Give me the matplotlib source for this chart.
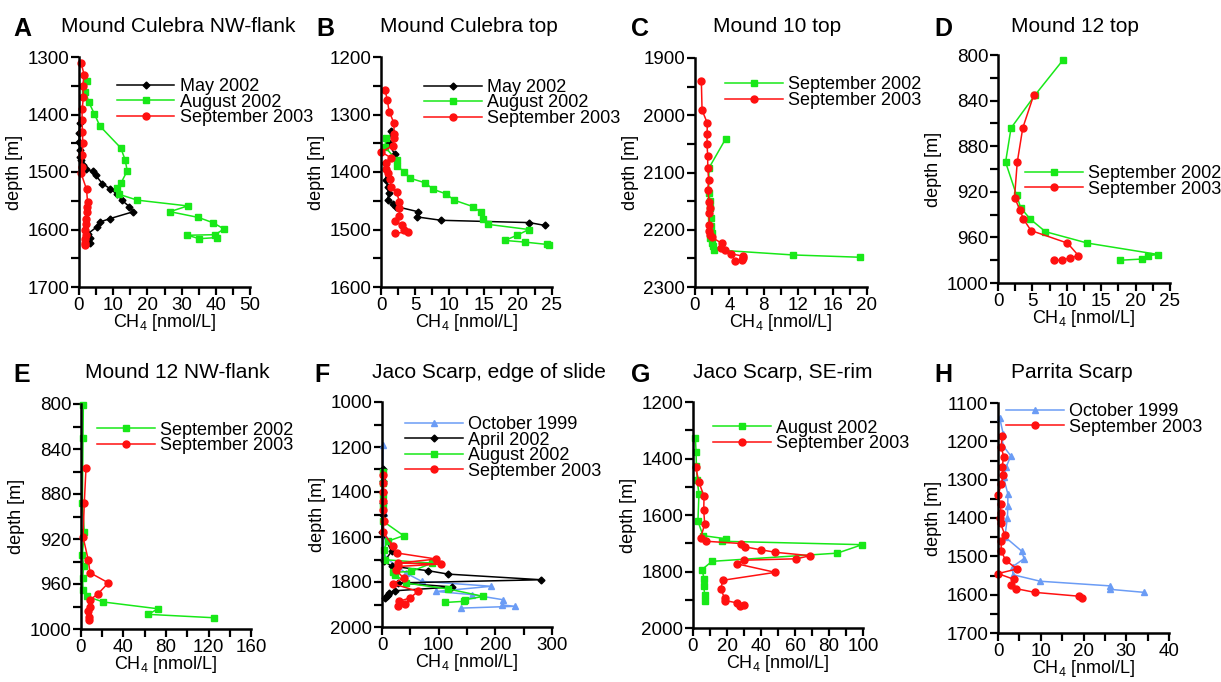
import numpy as np
import matplotlib
matplotlib.use('Agg')
import matplotlib.pyplot as plt
from matplotlib.ticker import MultipleLocator

plt.rcParams['font.family'] = ['Liberation Sans', 'DejaVu Sans']
plt.rcParams['mathtext.fontset'] = 'custom'
plt.rcParams['mathtext.rm'] = 'Liberation Sans'

# ---- data (CH4 nmol/L, depth m) ----
# A  Mound Culebra NW-flank
a_may02_ch4 = [0.2, 0.1, 0.1, 0.3, 0.2, 0.6, 1.3, 2.0, 4.2, 4.9, 6.8, 9.1, 11.2, 12.5, 14.7, 15.9, 9.1, 6.1, 5.3, 2.7, 3.2, 3.2]
a_may02_dep = [1415, 1432, 1448, 1462, 1474, 1479, 1488, 1495, 1499, 1506, 1520, 1529, 1539, 1549, 1560, 1569, 1581, 1587, 1595, 1607, 1614, 1624]
a_aug02_ch4 = [2.4, 1.9, 2.9, 4.5, 6.1, 12.2, 13.5, 14.1, 12.3, 11.0, 11.8, 17.1, 31.8, 26.6, 34.9, 39.1, 42.4, 39.8, 31.7, 35.2, 40.3]
a_aug02_dep = [1341, 1360, 1379, 1399, 1420, 1458, 1479, 1498, 1519, 1528, 1539, 1549, 1559, 1569, 1579, 1588, 1599, 1609, 1610, 1616, 1614]
a_sep03_ch4 = [0.6, 1.5, 1.1, 1.3, 0.9, 0.9, 1.0, 1.1, 1.0, 0.8, 0.6, 2.2, 2.5, 2.4, 2.3, 2.1, 2.1, 1.9, 2.0, 1.8, 1.7, 1.9]
a_sep03_dep = [1310, 1331, 1350, 1370, 1391, 1410, 1430, 1450, 1470, 1491, 1502, 1530, 1552, 1560, 1569, 1581, 1590, 1601, 1610, 1617, 1624, 1627]

# B  Mound Culebra top
b_may02_ch4 = [1.5, 1.1, 2.0, 0.6, 0.8, 0.7, 1.0, 1.1, 1.0, 1.8, 2.2, 5.4, 5.2, 8.8, 21.7, 24.0]
b_may02_dep = [1328, 1350, 1369, 1385, 1397, 1414, 1426, 1437, 1448, 1456, 1460, 1469, 1478, 1484, 1488, 1493]
b_aug02_ch4 = [0.7, 0.6, 2.3, 2.4, 3.4, 4.3, 6.5, 7.6, 9.5, 10.7, 13.4, 14.6, 14.9, 15.6, 21.6, 19.9, 18.1, 21.1, 24.3, 24.5]
b_aug02_dep = [1340, 1357, 1379, 1390, 1400, 1411, 1419, 1430, 1438, 1449, 1460, 1470, 1481, 1491, 1500, 1510, 1519, 1522, 1526, 1527]
b_sep03_ch4 = [0.6, 0.9, 1.2, 1.9, 1.9, 1.9, 1.8, 0.05, 1.4, 0.7, 0.8, 1.0, 1.3, 1.5, 2.3, 2.7, 2.7, 2.7, 2.0, 3.1, 3.3, 4.0, 2.1]
b_sep03_dep = [1257, 1274, 1295, 1315, 1334, 1340, 1354, 1365, 1375, 1385, 1394, 1402, 1413, 1426, 1435, 1453, 1463, 1477, 1485, 1493, 1500, 1505, 1506]

# C  Mound 10 top
c_sep02_ch4 = [3.57, 1.63, 1.59, 1.75, 1.75, 1.83, 1.83, 1.94, 1.75, 1.98, 2.14, 2.21, 11.38, 19.15]
c_sep02_dep = [2041, 2092, 2135, 2150, 2162, 2179, 2194, 2206, 2214, 2223, 2229, 2235, 2244, 2248]
c_sep03_ch4 = [0.74, 0.82, 1.44, 1.40, 1.40, 1.48, 1.48, 1.59, 1.48, 1.63, 1.71, 1.63, 1.67, 1.67, 1.75, 1.94, 3.15, 2.99, 3.50, 4.19, 5.55, 5.63, 5.48, 4.70]
c_sep03_dep = [1941, 1991, 2014, 2032, 2051, 2072, 2092, 2113, 2131, 2151, 2162, 2171, 2191, 2202, 2209, 2213, 2224, 2232, 2236, 2242, 2246, 2249, 2252, 2255]

# D  Mound 12 top
d_sep02_ch4 = [9.5, 5.4, 1.9, 1.1, 2.7, 3.3, 4.7, 6.9, 13.0, 23.3, 21.8, 20.9, 17.8]
d_sep02_dep = [804, 835, 864, 894, 923, 934, 944, 955, 965, 975, 976, 979, 980]
d_sep03_ch4 = [5.2, 3.6, 2.8, 2.4, 3.2, 3.7, 4.8, 10.1, 11.7, 10.4, 9.3, 8.1]
d_sep03_dep = [835, 864, 894, 925, 936, 944, 954, 965, 976, 978, 980, 980]

# E  Mound 12 NW-flank
e_sep02_ch4 = [2.2, 1.9, 1.3, 3.1, 1.3, 2.5, 1.6, 1.9, 5.3, 21.1, 72.3, 63.5, 125.1]
e_sep02_dep = [801, 830, 888, 914, 934, 944, 955, 965, 971, 976, 982, 987, 990]
e_sep03_ch4 = [4.7, 3.1, 1.9, 6.9, 8.5, 25.8, 15.7, 8.5, 8.5, 6.9, 7.2, 7.5]
e_sep03_dep = [857, 888, 918, 939, 950, 959, 969, 974, 980, 984, 989, 992]

# F  Jaco Scarp, edge of slide
f_oct99_ch4 = [1.8, 1.5, 1.8, 2.0, 2.9, 3.0, 3.5, 42, 70, 193, 96, 158, 214, 212, 235, 140]
f_oct99_dep = [1191, 1300, 1397, 1445, 1493, 1590, 1686, 1760, 1797, 1819, 1842, 1856, 1879, 1902, 1908, 1916]
f_apr02_ch4 = [1, 1, 1, 1, 1, 0, 17, 4, 17, 82, 117, 281, 29, 124, 23, 12, 10, 8, 6]
f_apr02_dep = [1300, 1350, 1400, 1450, 1500, 1578, 1664, 1708, 1730, 1750, 1765, 1790, 1804, 1822, 1839, 1849, 1856, 1863, 1871]
f_aug02_ch4 = [2, 2, 2, 2, 2, 38, 10, 3, 6, 88, 52, 20, 23, 43, 117, 179, 146, 144, 111]
f_aug02_dep = [1313, 1360, 1412, 1461, 1530, 1594, 1619, 1656, 1701, 1716, 1753, 1757, 1767, 1805, 1831, 1864, 1879, 1886, 1891]
f_sep03_ch4 = [2, 2, 2, 2, 2, 3, 2, 20, 26, 96, 28, 104, 29, 24, 38, 20, 64, 49, 30, 41, 28]
f_sep03_dep = [1323, 1360, 1400, 1440, 1480, 1530, 1579, 1642, 1671, 1698, 1716, 1720, 1731, 1745, 1782, 1808, 1842, 1871, 1886, 1898, 1908]

# G  Jaco Scarp, SE-rim
g_aug02_ch4 = [1.4, 1.8, 2.0, 2.4, 3.5, 2.9, 5.9, 19.2, 17.3, 99.5, 84.9, 11.2, 5.3, 6.5, 6.3, 6.9, 7.3]
g_aug02_dep = [1327, 1377, 1425, 1475, 1524, 1622, 1673, 1684, 1693, 1705, 1735, 1764, 1793, 1825, 1853, 1882, 1906]
g_sep03_ch4 = [1.6, 3.5, 6.5, 6.3, 6.9, 4.5, 7.8, 28.4, 30.8, 39.8, 48.4, 69.0, 60.8, 29.8, 25.9, 48.4, 17.6, 16.3, 18.6, 19.0, 25.9, 27.5, 30.0]
g_sep03_dep = [1431, 1484, 1534, 1584, 1632, 1681, 1693, 1701, 1713, 1723, 1732, 1744, 1755, 1760, 1773, 1803, 1831, 1862, 1894, 1903, 1911, 1923, 1920]

# H  Parrita Scarp
h_oct99_ch4 = [0.4, 1.2, 1.0, 3.0, 1.9, 1.3, 2.3, 2.3, 2.2, 1.6, 5.5, 6.1, 3.4, 3.5, 9.9, 26.1, 26.1, 34.2]
h_oct99_dep = [1139, 1180, 1209, 1238, 1267, 1294, 1337, 1368, 1399, 1449, 1486, 1506, 1527, 1548, 1565, 1577, 1586, 1594]
h_sep03_ch4 = [0.9, 0.8, 1.3, 1.0, 1.2, 0.8, 0.0, 0.6, 0.6, 0.5, 0.6, 1.6, 0.8, 0.7, 1.8, 4.4, 0.0, 3.7, 3.1, 4.1, 8.6, 18.9, 19.7]
h_sep03_dep = [1187, 1215, 1240, 1266, 1289, 1312, 1340, 1364, 1388, 1401, 1414, 1444, 1460, 1486, 1510, 1533, 1545, 1560, 1574, 1584, 1594, 1604, 1608]

# ---- styles ----
styles = {
    'October 1999': dict(color='#6b9cf5', marker='^', ms=5),
    'May 2002': dict(color='black', marker='D', ms=3.5),
    'April 2002': dict(color='black', marker='D', ms=3.5),
    'August 2002': dict(color='#18e818', marker='s', ms=4.5),
    'September 2002': dict(color='#18e818', marker='s', ms=4.5),
    'September 2003': dict(color='#ff1010', marker='o', ms=5),
}

W, H = 1221, 682
fig = plt.figure(figsize=(W / 100, H / 100), dpi=100)


def px_axes(l, t, r, b):
    return fig.add_axes([l / W, 1 - b / H, (r - l) / W, (b - t) / H])


def draw_panel(box, letter, title, title_xy, letter_xy, series, xlim, xmaj, xmin,
               ylim, ymaj, ymin, leg_xy):
    ax = px_axes(*box)
    for ch4, dep, label in series:
        st = styles[label]
        ax.plot(ch4, dep, color=st['color'], marker=st['marker'], ms=st['ms'],
                lw=1.1, label=label, clip_on=False)
    ax.set_xlim(*xlim)
    ax.set_ylim(ylim[1], ylim[0])
    ax.xaxis.set_major_locator(MultipleLocator(xmaj))
    ax.xaxis.set_minor_locator(MultipleLocator(xmin))
    ax.yaxis.set_major_locator(MultipleLocator(ymaj))
    ax.yaxis.set_minor_locator(MultipleLocator(ymin))
    for s in ['top', 'right']:
        ax.spines[s].set_visible(False)
    for s in ['left', 'bottom']:
        ax.spines[s].set_linewidth(1.8)
    ax.tick_params(which='major', direction='out', length=6, width=1.6, labelsize=13.5, pad=1)
    ax.tick_params(which='minor', direction='out', length=5.5, width=1.6)
    ax.set_ylabel('depth [m]', fontsize=13, labelpad=3)
    ax.set_xlabel('CH$_\\mathregular{4}$ [nmol/L]', fontsize=13, labelpad=-1)
    ax.legend(loc='upper left', bbox_to_anchor=leg_xy, frameon=False, fontsize=13,
              handlelength=3.2, handletextpad=0.3, labelspacing=-0.08,
              borderpad=0, borderaxespad=0, numpoints=1)
    fig.text(title_xy[0] / W, 1 - title_xy[1] / H, title, fontsize=15, ha='center', va='center')
    fig.text(letter_xy[0] / W, 1 - letter_xy[1] / H, letter, fontsize=18, fontweight='bold',
             ha='left', va='center')
    return ax


draw_panel((79, 57, 250, 287), 'A', 'Mound Culebra NW-flank', (178, 26), (13, 29),
           [(a_may02_ch4, a_may02_dep, 'May 2002'),
            (a_aug02_ch4, a_aug02_dep, 'August 2002'),
            (a_sep03_ch4, a_sep03_dep, 'September 2003')],
           (0, 50), 10, 5, (1300, 1700), 100, 50, (0.22, 0.908))

draw_panel((381, 57, 552, 287), 'B', 'Mound Culebra top', (469, 26), (316, 29),
           [(b_may02_ch4, b_may02_dep, 'May 2002'),
            (b_aug02_ch4, b_aug02_dep, 'August 2002'),
            (b_sep03_ch4, b_sep03_dep, 'September 2003')],
           (0, 25), 5, 2.5, (1200, 1600), 100, 50, (0.25, 0.905))

draw_panel((695, 58, 867, 287), 'C', 'Mound 10 top', (777, 26), (631, 29),
           [(c_sep02_ch4, c_sep02_dep, 'September 2002'),
            (c_sep03_ch4, c_sep03_dep, 'September 2003')],
           (0, 20), 4, 2, (1900, 2300), 100, 50, (0.175, 0.92))

draw_panel((998, 55, 1170, 283), 'D', 'Mound 12 top', (1075, 26), (934, 29),
           [(d_sep02_ch4, d_sep02_dep, 'September 2002'),
            (d_sep03_ch4, d_sep03_dep, 'September 2003')],
           (0, 25), 5, 2.5, (800, 1000), 40, 20, (0.157, 0.517))

draw_panel((81, 404, 251, 629), 'E', 'Mound 12 NW-flank', (177, 372), (13, 375),
           [(e_sep02_ch4, e_sep02_dep, 'September 2002'),
            (e_sep03_ch4, e_sep03_dep, 'September 2003')],
           (0, 160), 40, 20, (800, 1000), 40, 20, (0.094, 0.922))

draw_panel((382, 402, 552, 627), 'F', 'Jaco Scarp, edge of slide', (489, 372), (314, 375),
           [(f_oct99_ch4, f_oct99_dep, 'October 1999'),
            (f_apr02_ch4, f_apr02_dep, 'April 2002'),
            (f_aug02_ch4, f_aug02_dep, 'August 2002'),
            (f_sep03_ch4, f_sep03_dep, 'September 2003')],
           (0, 300), 100, 50, (1000, 2000), 200, 100, (0.136, 0.938))

draw_panel((693, 402, 863, 628), 'G', 'Jaco Scarp, SE-rim', (783, 372), (631, 375),
           [(g_aug02_ch4, g_aug02_dep, 'August 2002'),
            (g_sep03_ch4, g_sep03_dep, 'September 2003')],
           (0, 100), 20, 10, (1200, 2000), 200, 100, (0.117, 0.922))

draw_panel((998, 403, 1169, 633), 'H', 'Parrita Scarp', (1072, 372), (934, 375),
           [(h_oct99_ch4, h_oct99_dep, 'October 1999'),
            (h_sep03_ch4, h_sep03_dep, 'September 2003')],
           (0, 40), 10, 5, (1100, 1700), 100, 50, (0.047, 1.0))

fig.savefig('out.png', dpi=100)
